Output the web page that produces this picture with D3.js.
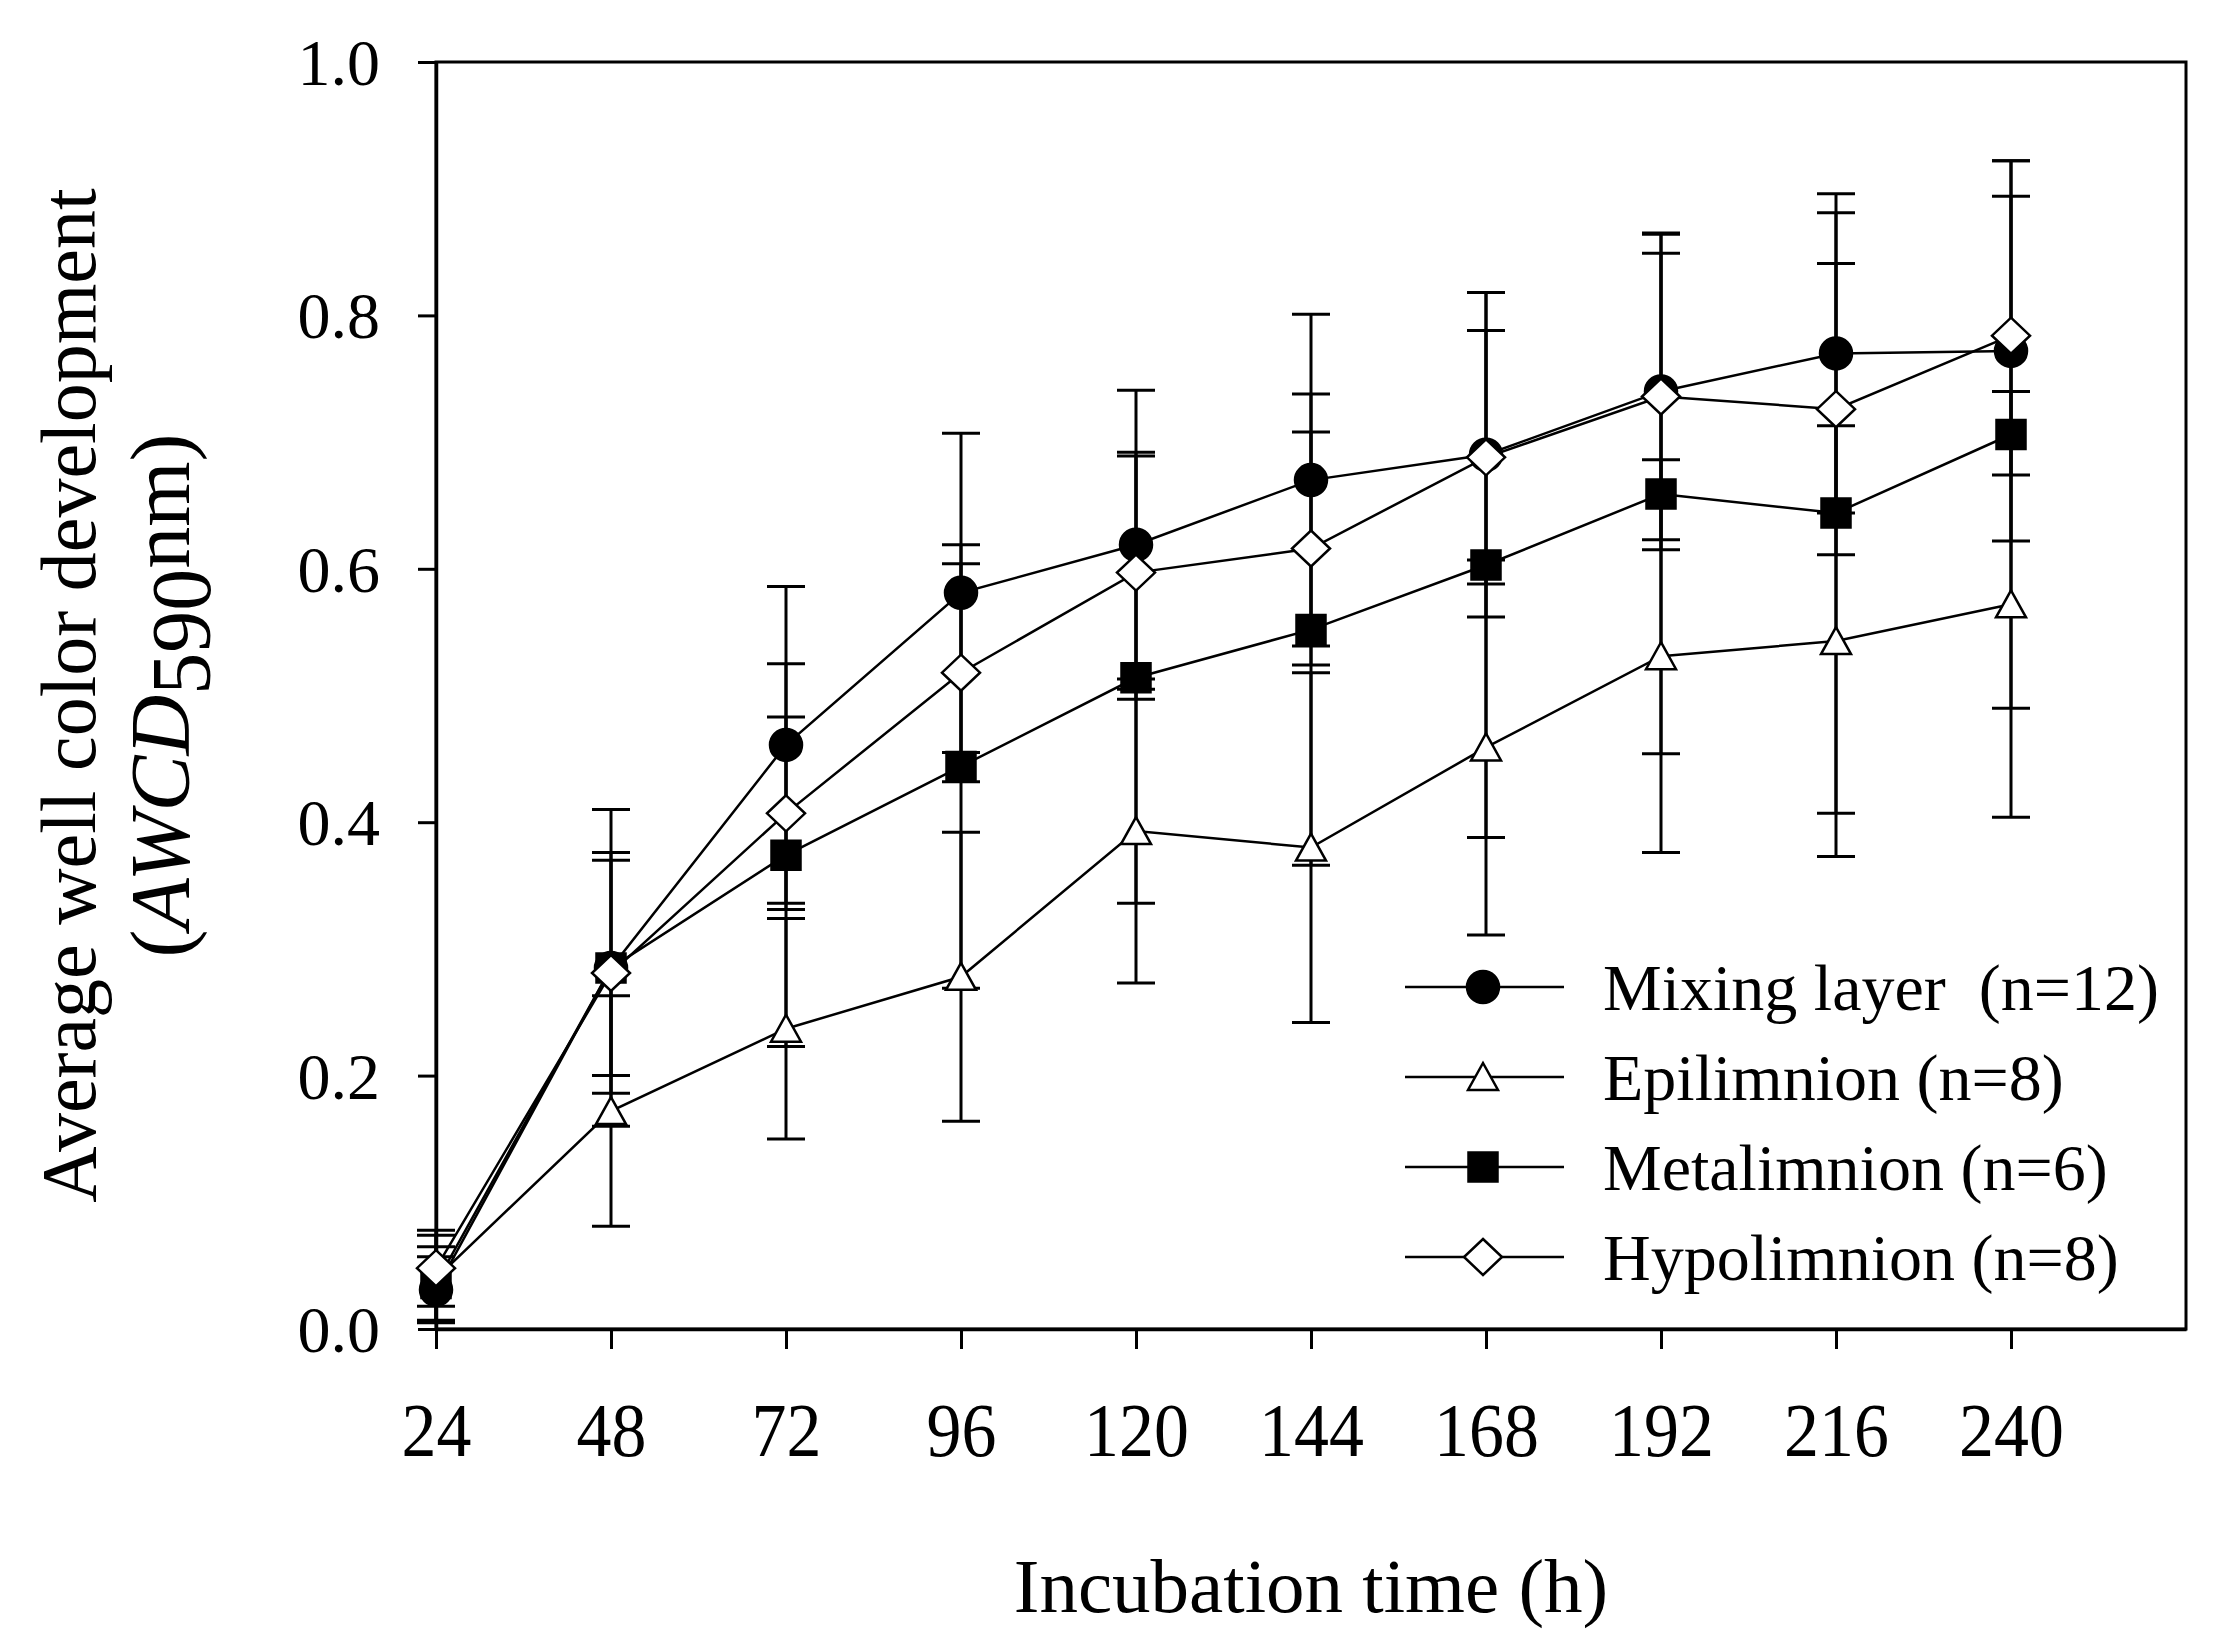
<!DOCTYPE html>
<html lang="en">
<head>
<meta charset="UTF-8">
<title>AWCD over incubation time</title>
<style>
    body { margin: 0; background: #fff; }
    svg { display: block; font-family: "Liberation Serif", "Times New Roman", serif; }
</style>
</head>
<body>
<svg id="chart" width="2214" height="1642"></svg>

<script src="https://cdn.jsdelivr.net/npm/d3@7"></script>
<script>
    // values (mean and SD of AWCD at 590 nm)
    const hours = [24, 48, 72, 96, 120, 144, 168, 192, 216, 240];

    const mixingMean = [0.031, 0.285, 0.461, 0.581, 0.619, 0.670, 0.690, 0.740, 0.770, 0.772];
    const mixingSD   = [0.026, 0.125, 0.125, 0.126, 0.122, 0.131, 0.128, 0.125, 0.126, 0.150];

    const epiMean = [0.040, 0.172, 0.237, 0.278, 0.393, 0.380, 0.459, 0.531, 0.543, 0.572];
    const epiSD   = [0.034, 0.091, 0.087, 0.114, 0.120, 0.138, 0.148, 0.155, 0.170, 0.168];

    const metaMean = [0.036, 0.285, 0.374, 0.444, 0.514, 0.552, 0.603, 0.659, 0.644, 0.706];
    const metaSD   = [0.029, 0.085, 0.151, 0.175, 0.178, 0.186, 0.215, 0.205, 0.237, 0.216];

    const hypoMean = [0.048, 0.281, 0.407, 0.518, 0.597, 0.616, 0.688, 0.736, 0.726, 0.784];
    const hypoSD   = [0.030, 0.095, 0.076, 0.086, 0.092, 0.092, 0.100, 0.113, 0.115, 0.110];

    const seriesNames = ["Mixing layer  (n=12)", "Epilimnion (n=8)", "Metalimnion (n=6)", "Hypolimnion (n=8)"];
    const seriesSymbols = ["circle", "triangle", "square", "diamond"];

    const xTicks = [24, 48, 72, 96, 120, 144, 168, 192, 216, 240];
    const yTicks = [0, 0.2, 0.4, 0.6, 0.8, 1.0];

    const series = [
        {name: seriesNames[0], symbol: seriesSymbols[0], mean: mixingMean, sd: mixingSD},
        {name: seriesNames[1], symbol: seriesSymbols[1], mean: epiMean, sd: epiSD},
        {name: seriesNames[2], symbol: seriesSymbols[2], mean: metaMean, sd: metaSD},
        {name: seriesNames[3], symbol: seriesSymbols[3], mean: hypoMean, sd: hypoSD}
    ].map(s => ({...s, points: hours.map((h, i) => ({h, m: s.mean[i], sd: s.sd[i]}))}));

    const margin = {top: 62, right: 28, bottom: 313, left: 436};
    const width = 2214, height = 1642;
    const serif = '"Liberation Serif", "Times New Roman", serif';

    const x = d3.scaleLinear().domain([24, 264]).range([margin.left, width - margin.right]);
    const y = d3.scaleLinear().domain([0, 1]).range([height - margin.bottom, margin.top]);

    const svg = d3.select("#chart");

    // marker outlines, centred on 0,0
    const shape = {
        circle: "M16,0A16,16 0 1,1 -16,0A16,16 0 1,1 16,0Z",
        triangle: "M0,-14L15,13L-15,13Z",
        square: "M-14.5,-14.5H14.5V14.5H-14.5Z",
        diamond: "M0,-18L19,0L0,18L-19,0Z"
    };
    const filled = {circle: true, triangle: false, square: true, diamond: false};

    // frame
    svg.append("rect")
        .attr("x", x.range()[0]).attr("y", y.range()[1])
        .attr("width", x.range()[1] - x.range()[0])
        .attr("height", y.range()[0] - y.range()[1])
        .attr("fill", "none").attr("stroke", "#000").attr("stroke-width", 3);

    // axes
    const xAxis = svg.append("g")
        .attr("transform", `translate(0,${y(0)})`)
        .call(d3.axisBottom(x).tickValues(xTicks).tickSize(20).tickSizeOuter(0).tickPadding(53));
    xAxis.attr("font-family", serif).attr("font-size", 76);
    xAxis.selectAll("text").attr("transform", "scale(0.92,1)");

    const yAxis = svg.append("g")
        .attr("transform", `translate(${x(24)},0)`)
        .call(d3.axisLeft(y).tickValues(yTicks).tickFormat(d3.format(".1f")).tickSize(18).tickSizeOuter(0).tickPadding(38));
    yAxis.attr("font-family", serif).attr("font-size", 66);
    yAxis.selectAll("text").attr("dy", "0.34em");

    [xAxis, yAxis].forEach(a => {
        a.select(".domain").attr("stroke-width", 3.5);
        a.selectAll(".tick line").attr("stroke-width", 3);
        a.selectAll("text").attr("fill", "#000");
    });

    // error bars
    const bars = svg.append("g").attr("stroke", "#000").attr("fill", "none");
    series.forEach(s => {
        const g = bars.append("g").selectAll("g").data(s.points).join("g");
        g.append("line")
            .attr("x1", d => x(d.h)).attr("x2", d => x(d.h))
            .attr("y1", d => y(Math.max(0, d.m - d.sd))).attr("y2", d => y(d.m + d.sd))
            .attr("stroke-width", 3);
        g.append("line")
            .attr("x1", d => x(d.h) - 19).attr("x2", d => x(d.h) + 19)
            .attr("y1", d => y(d.m + d.sd)).attr("y2", d => y(d.m + d.sd))
            .attr("stroke-width", 3);
        g.append("line")
            .attr("x1", d => x(d.h) - 19).attr("x2", d => x(d.h) + 19)
            .attr("y1", d => y(Math.max(0, d.m - d.sd))).attr("y2", d => y(Math.max(0, d.m - d.sd)))
            .attr("stroke-width", 3);
    });

    // lines and markers
    const line = d3.line().x(d => x(d.h)).y(d => y(d.m));
    series.forEach(s => {
        svg.append("path")
            .datum(s.points)
            .attr("d", line)
            .attr("fill", "none").attr("stroke", "#000").attr("stroke-width", 2.5);
        svg.append("g").selectAll("path")
            .data(s.points)
            .join("path")
            .attr("transform", d => `translate(${x(d.h)},${y(d.m)})`)
            .attr("d", shape[s.symbol])
            .attr("fill", filled[s.symbol] ? "#000" : "#fff")
            .attr("stroke", "#000").attr("stroke-width", 2.5);
    });

    // legend
    const legend = svg.append("g").attr("transform", "translate(1405,987)");
    const row = legend.selectAll("g").data(series).join("g")
        .attr("transform", (d, i) => `translate(0,${i * 90})`);
    row.append("line").attr("x1", 0).attr("x2", 159)
        .attr("stroke", "#000").attr("stroke-width", 2.5);
    row.append("path")
        .attr("transform", "translate(78,0)")
        .attr("d", d => shape[d.symbol])
        .attr("fill", d => filled[d.symbol] ? "#000" : "#fff")
        .attr("stroke", "#000").attr("stroke-width", 2.5);
    row.append("text")
        .attr("x", 198).attr("dy", "0.35em")
        .attr("font-size", 66)
        .style("white-space", "pre")
        .text(d => d.name);

    // axis titles
    svg.append("text")
        .attr("x", (x.range()[0] + x.range()[1]) / 2).attr("y", 1612)
        .attr("text-anchor", "middle").attr("font-size", 77)
        .text("Incubation time (h)");

    const yMid = (y.range()[0] + y.range()[1]) / 2;
    svg.append("text")
        .attr("transform", `translate(95,${yMid}) rotate(-90)`)
        .attr("text-anchor", "middle").attr("font-size", 78)
        .text("Average well color development");

    const t2 = svg.append("text")
        .attr("transform", `translate(189,${yMid}) rotate(-90)`)
        .attr("text-anchor", "middle").attr("font-size", 84);
    t2.append("tspan").text("(");
    t2.append("tspan").attr("font-style", "italic").text("AWCD");
    t2.append("tspan").attr("dy", 21).text("590");
    t2.append("tspan").attr("dy", -21).text("nm)");
</script>
</body>
</html>
